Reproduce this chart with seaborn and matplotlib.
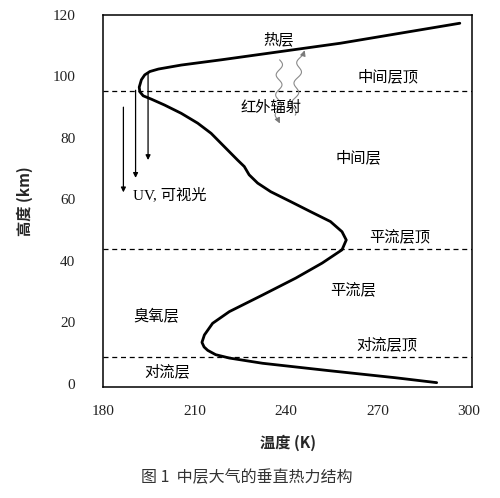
import numpy as np
import pandas as pd
import seaborn as sns
import matplotlib
matplotlib.use("Agg")
import matplotlib.pyplot as plt

# temperature profile, from the top of the curve down
temp_k = [297.0, 257.8, 218.6, 205.5, 198.0, 195.2, 193.5, 192.4, 191.7, 191.9,
          193.0, 195.7, 200.0, 205.5, 210.9, 215.3, 219.6, 224.0, 226.2, 227.8,
          230.6, 234.9, 241.4, 248.0, 254.5, 258.3, 259.7, 258.3, 251.8, 243.1,
          232.2, 221.3, 215.8, 213.1, 212.3, 213.0, 214.2, 216.8, 221.3, 232.2,
          254.0, 275.8, 289.4]
alt_km = [117.3, 110.8, 105.4, 103.7, 102.4, 101.6, 100.5, 98.9, 96.5, 95.0,
          93.7, 92.6, 90.7, 88.0, 84.8, 81.5, 77.2, 72.8, 70.7, 68.0,
          65.3, 62.5, 59.3, 56.0, 52.8, 49.5, 46.8, 43.6, 39.3, 34.4,
          28.9, 23.5, 19.7, 15.9, 13.5, 12.0, 10.9, 9.5, 8.4, 6.7,
          4.3, 2.0, 0.4]

# layer boundaries (km)
boundaries = [95.4, 43.9, 8.6]

# radiation arrows: (T, z_start, z_end)
uv_arrows = [(194.6, 101.0, 72.8), (190.5, 95.5, 67.0), (186.5, 90.0, 62.3)]

x_ticks = [180, 210, 240, 270, 300]
y_ticks = [0, 20, 40, 60, 80, 100, 120]

labels = [
    ("热层", 237.6, 112.0),
    ("中间层顶", 273.5, 100.0),
    ("红外辐射", 234.9, 90.0),
    ("中间层", 263.7, 73.5),
    ("平流层顶", 277.4, 47.8),
    ("平流层", 262.0, 30.6),
    ("臭氧层", 197.3, 21.8),
    ("对流层顶", 273.0, 12.7),
    ("对流层", 201.0, 3.9),
]

sns.set_theme(style="white")
plt.rcParams["font.family"] = ["Noto Sans CJK SC", "DejaVu Sans"]

fig = plt.figure(figsize=(5.0, 4.98), dpi=100)
ax = fig.add_axes([0.206, 0.223, 0.738, 0.747])

df = pd.DataFrame({"temp": temp_k, "alt": alt_km})
sns.lineplot(data=df, x="temp", y="alt", sort=False, estimator=None,
             color="black", lw=2.0, ax=ax)
ax.lines[0].set_solid_joinstyle("round")
ax.lines[0].set_solid_capstyle("round")

for z in boundaries:
    ax.axhline(z, color="black", lw=0.9, ls=(0, (4, 3)))

for t, z0, z1 in uv_arrows:
    ax.annotate("", xy=(t, z1), xytext=(t, z0),
                arrowprops=dict(arrowstyle="-|>", color="black", lw=0.9,
                                mutation_scale=7, shrinkA=0, shrinkB=0))

# wavy infrared arrows (decoration)
s = np.linspace(0, 1, 80)
wl_z = 105.4 + (85.9 - 105.4) * s
wl_t = 237.8 - 0.5 * s + 1.0 * np.sin(s * 2 * np.pi * 3)
ax.plot(wl_t, wl_z, color="#8a8a8a", lw=0.8)
ax.annotate("", xy=(wl_t[-1] + 0.6, wl_z[-1] - 1.2), xytext=(wl_t[-1], wl_z[-1]),
            arrowprops=dict(arrowstyle="-|>", color="#7a7a7a", lw=0.8,
                            mutation_scale=8, shrinkA=0, shrinkB=0))
wr_z = 87.4 + (107.3 - 87.4) * s
wr_t = 242.1 + 2.7 * s + 1.0 * np.sin(s * 2 * np.pi * 3 + 1.0)
ax.plot(wr_t, wr_z, color="#8a8a8a", lw=0.8)
ax.annotate("", xy=(wr_t[-1] + 0.4, wr_z[-1] + 1.2), xytext=(wr_t[-1], wr_z[-1]),
            arrowprops=dict(arrowstyle="-|>", color="#7a7a7a", lw=0.8,
                            mutation_scale=8, shrinkA=0, shrinkB=0))

for txt, t, z in labels:
    ax.text(t, z, txt, ha="center", va="center", fontsize=11, color="black")
ax.text(189.8, 61.5, "UV, 可视光", ha="left", va="center", fontsize=11,
        family=["Liberation Serif", "Noto Sans CJK SC"], color="black")

ax.set_xlim(179.8, 301.0)
ax.set_ylim(-1.0, 120.0)
ax.set_xticks(x_ticks)
ax.set_yticks(y_ticks)
ax.set_xticklabels([str(v) for v in x_ticks], family="Liberation Serif", fontsize=11)
ax.set_yticklabels([str(v) for v in y_ticks], family="Liberation Serif", fontsize=11)
ax.tick_params(axis="both", length=0, colors="#222222")
ax.tick_params(axis="x", pad=13)
ax.tick_params(axis="y", pad=20)

for sp in ax.spines.values():
    sp.set_visible(True)
    sp.set_color("black")
    sp.set_linewidth(1.1)

ax.set_xlabel("温度 (K)", fontsize=11, fontweight="bold",
              family=["Noto Sans CJK SC", "Liberation Serif"])
ax.set_ylabel("高度 (km)", fontsize=11, fontweight="bold",
              family=["Noto Sans CJK SC", "Liberation Serif"])
ax.xaxis.set_label_coords(0.5, -0.128)
ax.yaxis.set_label_coords(-0.19, 0.5)

fig.text(0.494, 0.04, "图 1  中层大气的垂直热力结构", ha="center", va="center",
         fontsize=11.5, color="#333333")

fig.savefig("out.png", dpi=100)
